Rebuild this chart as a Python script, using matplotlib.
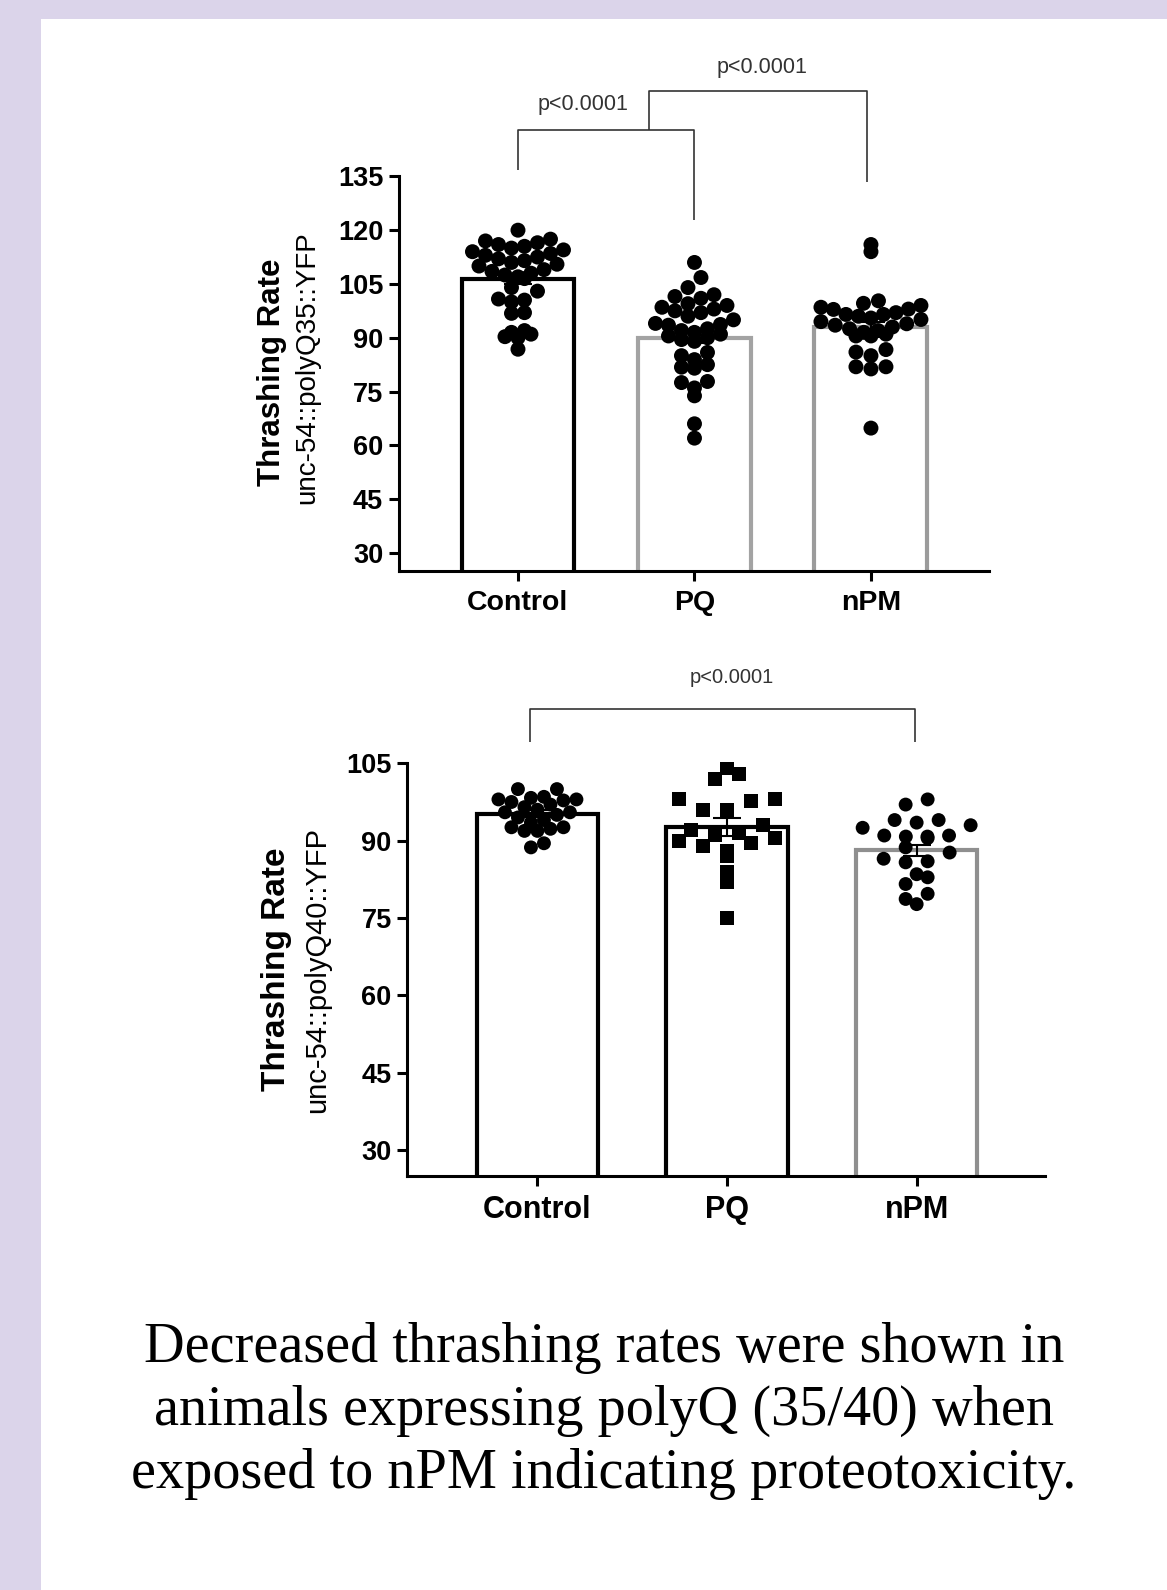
import numpy as np
import matplotlib
matplotlib.use("Agg")
import matplotlib.pyplot as plt
from matplotlib.patches import Rectangle

# ---------------- data ----------------
categories = ["Control", "PQ", "nPM"]

top_control = [120, 117.5, 117, 116.5, 116, 115.5, 115, 114.5, 114, 113.5, 113, 112.5,
               112, 111.5, 111, 110.5, 110, 109, 108.5, 108, 107.5, 107, 106.5, 104,
               103, 100.5, 100, 100.8, 97, 96.8, 92, 91, 91.5, 90, 90.3, 86.8]
top_pq = [111, 106.8, 104, 102, 101.5, 101, 99.5, 99, 98.5, 98, 97.5, 97, 96, 95, 94,
          93.7, 93.5, 92.5, 92, 91.5, 91, 90.5, 90, 89.5, 89, 85.9, 85, 83.9, 82.5,
          81.8, 81.5, 77.8, 77.5, 76, 73.8, 66, 62]
top_npm = [116, 114, 100.3, 99.6, 99, 98.5, 98, 97.9, 97, 96.5, 96.5, 96, 95.5, 95.1,
           94.5, 93.9, 93.5, 93, 92.5, 92, 91.5, 91, 90.5, 90.5, 86.7, 86, 85, 81.9,
           81.3, 81.9, 64.8]
top_means = [106.3, 90.0, 93.0]
top_sems = [1.2, 1.5, 1.4]
top_yticks = [30, 45, 60, 75, 90, 105, 120, 135]

bot_control = [100, 100, 98.5, 98.3, 98, 98, 97.8, 97.5, 97, 96.5, 96, 95.5, 95.5, 95,
               94.5, 94, 93.5, 92.6, 92.3, 91.9, 91.9, 92.6, 89.5, 88.7]
bot_pq = [104, 103, 102, 98, 98, 97.7, 96, 96, 93, 92, 91.5, 91, 90.5, 90, 89.5, 89,
          88, 87, 84, 82, 75]
bot_npm = [98, 97, 94, 94, 93.5, 93, 92.5, 91, 91, 90.8, 90.8, 90.5, 88.7, 87.7, 86.5,
           86, 85.8, 83.5, 82.9, 81.6, 79.7, 78.7, 77.7]
bot_means = [95.2, 92.7, 88.1]
bot_sems = [0.7, 1.7, 1.1]
bot_yticks = [30, 45, 60, 75, 90, 105]

pvalue_text = "p<0.0001"
caption = ("Decreased thrashing rates were shown in\n"
           "animals expressing polyQ (35/40) when\n"
           "exposed to nPM indicating proteotoxicity.")

# ---------------- figure ----------------
W, H = 1167, 1590
fig = plt.figure(figsize=(W / 100, H / 100), dpi=100)
fig.patch.set_facecolor("#dbd4ea")
fig.add_artist(Rectangle((41 / W, 0), 1 - 41 / W, 1 - 19 / H, transform=fig.transFigure,
                         facecolor="white", edgecolor="none", zorder=0))

SANS = "Liberation Sans"


def row_offsets(ax, values, bin_px, spacing_px, halfw_px):
    """Prism-like scatter: values binned into rows, each row spread symmetrically,
    lower values of a row toward the centre (gives the 'smile' rows)."""
    pos = ax.get_position()
    x0, x1 = ax.get_xlim()
    y0, y1 = ax.get_ylim()
    xu = (x1 - x0) / (pos.width * W)
    yu = (y1 - y0) / (pos.height * H)
    vals = np.asarray(values, float)
    bins = np.floor((vals - y0) / yu / bin_px).astype(int)
    offs = np.zeros(len(vals))
    for b in np.unique(bins):
        idx = np.where(bins == b)[0]
        n = len(idx)
        if n == 1:
            continue
        sp = min(spacing_px, 2 * halfw_px / (n - 1))
        slots = (np.arange(n) - (n - 1) / 2) * sp
        # order slots from centre outward, alternating sides
        slot_order = sorted(range(n), key=lambda k: (abs(slots[k]), slots[k]))
        members = idx[np.argsort(vals[idx], kind="stable")]
        for m, k in zip(members, slot_order):
            offs[m] = slots[k] * xu
    return offs


def style_axes(ax, yticks, ylim, xlim, tick_fs, cat_fs):
    ax.set_facecolor("none")
    ax.set_xlim(*xlim)
    ax.set_ylim(*ylim)
    for s in ["top", "right"]:
        ax.spines[s].set_visible(False)
    for s in ["left", "bottom"]:
        ax.spines[s].set_linewidth(2.2)
        ax.spines[s].set_color("black")
    ax.set_yticks(yticks)
    ax.set_yticklabels([str(t) for t in yticks], fontsize=tick_fs, fontweight="bold",
                       family=SANS)
    ax.set_xticks(range(len(categories)))
    ax.set_xticklabels(categories, fontsize=cat_fs, fontweight="bold", family=SANS)
    ax.tick_params(axis="both", length=7, width=2.2, color="black")
    ax.tick_params(axis="y", pad=4)
    ax.tick_params(axis="x", pad=7)


def draw_group(ax, x, vals, mean, sem, edge, marker, s, bin_px, sp, halfw):
    ax.bar([x], [mean], width=0.64, bottom=0, color="white", edgecolor=edge,
           linewidth=3.0, zorder=2)
    ax.errorbar([x], [mean], yerr=[sem], fmt="none", ecolor="black", elinewidth=1.5,
                capsize=10, capthick=1.5, zorder=3)
    offs = row_offsets(ax, vals, bin_px, sp, halfw)
    ax.scatter(x + offs, vals, s=s, marker=marker, color="black", edgecolor="none",
               zorder=4, clip_on=False)


# ---------------- top panel ----------------
ax1 = fig.add_axes([398.5 / W, 1 - 570.8 / H, (988.5 - 398.5) / W, (570.8 - 176.4) / H])
style_axes(ax1, top_yticks, (25, 135), (-0.677, 2.666), 19.5, 20.5)
top_data = [top_control, top_pq, top_npm]
top_edges = ["black", "#a3a3a3", "#9b9b9b"]
top_sp = [13, 13, 15]
for i in range(3):
    draw_group(ax1, i, top_data[i], top_means[i], top_sems[i], top_edges[i], "o", 116,
               bin_px=14, sp=top_sp[i], halfw=50)

br = dict(color="#333333", lw=1.2, clip_on=False, solid_capstyle="butt")
ax1.plot([0, 0, 1, 1], [136.9, 148, 148, 122.9], **br)
ax1.plot([0.74, 0.74, 1.98, 1.98], [148, 158.9, 158.9, 133.5], **br)
ax1.text(0.37, 155, pvalue_text, ha="center", va="center", fontsize=15.5,
         color="#333333", family=SANS)
ax1.text(1.38, 165.3, pvalue_text, ha="center", va="center", fontsize=15.5,
         color="#333333", family=SANS)

fig.text(272 / W, 1 - 372 / H, "Thrashing Rate", rotation=90, ha="center", va="center",
         fontsize=22.5, fontweight="bold", family=SANS)
fig.text(307 / W, 1 - 368 / H, "unc-54::polyQ35::YFP", rotation=90, ha="center",
         va="center", fontsize=20, family=SANS)

# ---------------- bottom panel ----------------
ax2 = fig.add_axes([407 / W, 1 - 1176 / H, (1045 - 407) / W, (1176 - 763.3) / H])
style_axes(ax2, bot_yticks, (25, 105), (-0.688, 2.677), 19.5, 22)
bot_data = [bot_control, bot_pq, bot_npm]
bot_edges = ["black", "black", "#8f8f8f"]
bot_markers = ["o", "s", "o"]
bot_sp = [13, 24, 22]
for i in range(3):
    draw_group(ax2, i, bot_data[i], bot_means[i], bot_sems[i], bot_edges[i],
               bot_markers[i], 100, bin_px=13, sp=bot_sp[i], halfw=54)

ax2.plot([-0.04, -0.04, 1.99, 1.99], [109.2, 115.5, 115.5, 109.2], **br)
ax2.text(1.025, 121.6, pvalue_text, ha="center", va="center", fontsize=14.5,
         color="#333333", family=SANS)

fig.text(277 / W, 1 - 969 / H, "Thrashing Rate", rotation=90, ha="center", va="center",
         fontsize=24, fontweight="bold", family=SANS)
fig.text(317 / W, 1 - 970 / H, "unc-54::polyQ40::YFP", rotation=90, ha="center",
         va="center", fontsize=21, family=SANS)

# ---------------- caption ----------------
cap_lines = caption.split("\n")
baselines = [1361.5, 1425, 1488.5]
for line, yb in zip(cap_lines, baselines):
    fig.text(604 / W, 1 - yb / H, line, ha="center", va="baseline", fontsize=40.5,
             family="Liberation Serif", color="black")

fig.savefig("out.png", dpi=100, facecolor=fig.get_facecolor())
